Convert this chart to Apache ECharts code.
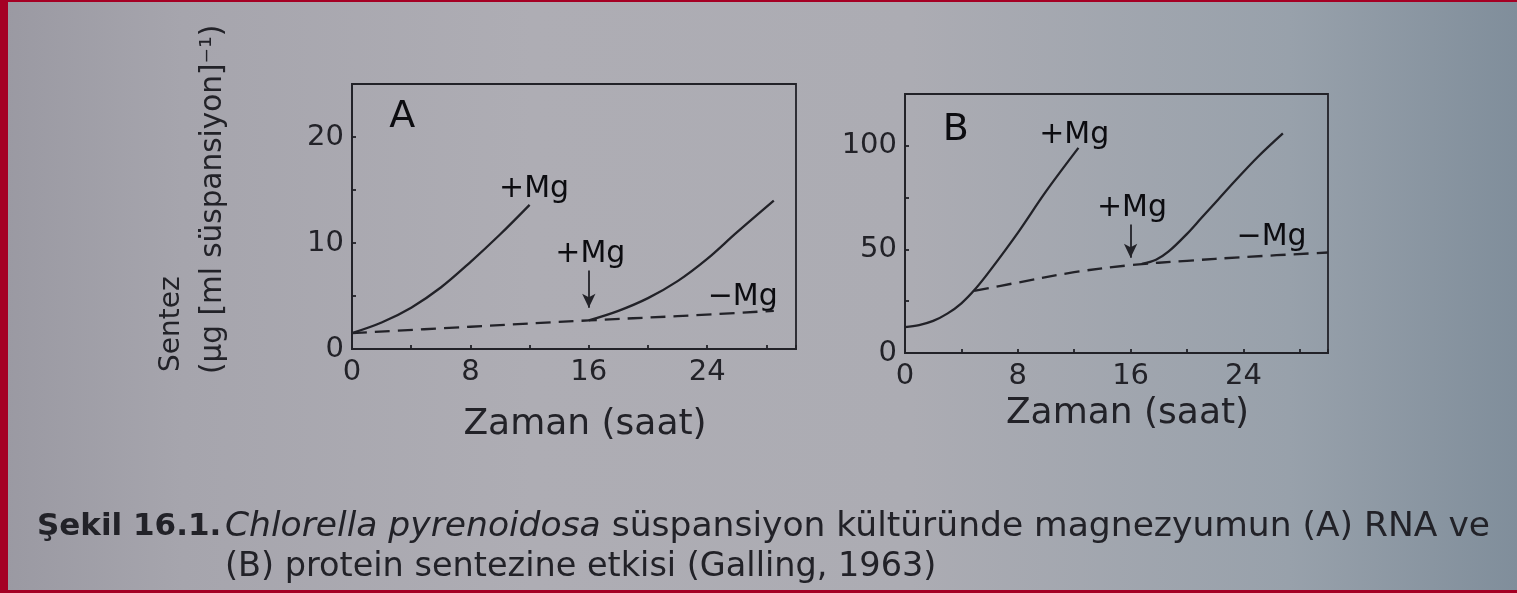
<!DOCTYPE html>
<html><head><meta charset="utf-8">
<script src="https://cdn.jsdelivr.net/npm/echarts@6/dist/echarts.min.js"></script>
<style>
html,body{margin:0;padding:0;width:1517px;height:593px;overflow:hidden;}
#chart{position:absolute;left:0;top:0;width:1517px;height:593px;
background:linear-gradient(90deg,#9a99a2 0%,#a6a5ad 12%,#aeadb4 35%,#acacb3 60%,#98a1ab 85%,#808e9b 100%);}
.bd{position:absolute;background:#a50024;}
</style></head>
<body>
<div id="chart"></div>
<div class="bd" style="left:0;top:0;width:8px;height:593px"></div>
<div class="bd" style="left:0;top:0;width:1517px;height:2px"></div>
<div class="bd" style="left:0;top:590px;width:1517px;height:3px"></div>
<script>
// ---- data ----
const xTickLabels = [0, 8, 16, 24];
const yTickLabelsA = [0, 10, 20];
const yTickLabelsB = [0, 50, 100];

// Panel A (RNA)
const aPlusEarly = [[0,1.5],[2,2.5],[4,3.9],[6,5.8],[8,8.2],[10,10.8],[12,13.6]];
const aMinus     = [[0,1.5],[8,2.1],[16,2.7],[22,3.1],[28.5,3.6]];
const aPlusLate  = [[16,2.7],[18,3.6],[20,4.8],[22,6.4],[24,8.5],[26,11.0],[28.5,14.0]];
const aLabels    = [[3.4,21.9,'A'],[12.3,15.1,'+Mg'],[16.1,8.9,'+Mg'],[26.4,4.9,'−Mg']];
const aArrow     = [16, 7.4, 3.9];

// Panel B (protein)
const bPlusEarly = [[0,12.5],[1,13.5],[2,15.5],[3,19],[4,24],[5,31],[6,39.5],[8,58],[10,78],[12.3,99]];
const bMinus     = [[4.9,30],[8,34],[12,39],[16,42.4],[20,44.5],[24,46.3],[30,48.5]];
const bPlusLate  = [[16.8,43],[17.8,45],[18.7,49],[20,57.5],[21,65],[22.2,74],[23.4,83],[25,94.5],[26.8,106]];
const bLabels    = [[3.6,107.6,'B'],[12.0,105.3,'+Mg'],[16.1,70,'+Mg'],[26.0,55.7,'−Mg']];
const bArrow     = [16, 62, 46];

const xName = 'Zaman (saat)';
const yName1 = 'Sentez';
const yName2 = '(µg [ml süspansiyon]⁻¹)';
const captionBold = 'Şekil 16.1.';
const captionItalic = 'Chlorella pyrenoidosa';
const captionRest1 = ' süspansiyon kültüründe magnezyumun (A) RNA ve';
const captionLine2 = '(B) protein sentezine etkisi (Galling, 1963)';

// ---- chart ----
const INK = '#222228';
const FONT = 'DejaVu Sans';
const chart = echarts.init(document.getElementById('chart'), null, {renderer:'canvas'});

function xAxisCfg(gi, gap, pad){
  return {
    type:'value', gridIndex:gi, min:0, max:30, interval:4,
    axisLine:{show:true, lineStyle:{color:INK, width:1.8}},
    axisTick:{show:true, inside:true, length:4, lineStyle:{color:INK, width:1.8}},
    splitLine:{show:false},
    axisLabel:{fontFamily:FONT, fontSize:29, color:INK, margin:9,
      formatter:v => xTickLabels.includes(v) ? String(v) : ''},
    name:xName, nameLocation:'middle', nameGap:gap,
    nameTextStyle:{fontFamily:FONT, fontSize:36, color:INK, padding:[0,0,0,pad]}
  };
}
function yAxisCfg(gi, max, interval, labels){
  return {
    type:'value', gridIndex:gi, min:0, max:max, interval:interval,
    axisLine:{show:true, lineStyle:{color:INK, width:1.8}},
    axisTick:{show:true, inside:true, length:4, lineStyle:{color:INK, width:1.8}},
    splitLine:{show:false},
    axisLabel:{fontFamily:FONT, fontSize:29, color:INK, margin:8,
      formatter:v => labels.includes(v) ? String(v) : ''}
  };
}
function curve(xi, data, dashed){
  return {
    type:'line', xAxisIndex:xi, yAxisIndex:xi, data:data, smooth:0.35,
    showSymbol:false, symbol:'none', silent:true,
    lineStyle:{color:INK, width:2.3, type: dashed ? [15,8] : 'solid'}
  };
}
function labels(xi, arr, arrow){
  return {
    type:'scatter', xAxisIndex:xi, yAxisIndex:xi, symbolSize:1, silent:true,
    itemStyle:{color:'rgba(0,0,0,0)'},
    data: arr.map(d => ({value:[d[0], d[1]],
      label:{show:true, position:'inside', formatter:d[2], fontFamily:FONT,
        fontSize: d[2].length === 1 ? 38 : 30, color:'#0c0c10', opacity:1,
        textBorderWidth:0}})),
    markLine:{
      silent:true, symbol:['none','arrow'], symbolSize:[10,14],
      label:{show:false},
      lineStyle:{color:INK, width:1.8, type:'solid'},
      data:[[{coord:[arrow[0], arrow[1]]},{coord:[arrow[0], arrow[2]]}]]
    }
  };
}

const option = {
  backgroundColor:'transparent',
  animation:false,
  grid:[
    {left:352, top:84, width:444, height:265, show:true, borderColor:INK, borderWidth:1.8, backgroundColor:'transparent'},
    {left:905, top:94, width:423, height:259, show:true, borderColor:INK, borderWidth:1.8, backgroundColor:'transparent'}
  ],
  xAxis:[xAxisCfg(0, 58, 22), xAxisCfg(1, 43, 22)],
  yAxis:[yAxisCfg(0, 25, 5, yTickLabelsA), yAxisCfg(1, 125, 25, yTickLabelsB)],
  series:[
    curve(0, aPlusEarly, false), curve(0, aMinus, true), curve(0, aPlusLate, false),
    labels(0, aLabels, aArrow),
    curve(1, bPlusEarly, false), curve(1, bMinus, true), curve(1, bPlusLate, false),
    labels(1, bLabels, bArrow)
  ],
  graphic:[
    {type:'text', x:172, y:372, rotation:Math.PI/2, silent:true,
      style:{text:yName1, fontFamily:FONT, fontSize:28, fill:INK, align:'left', verticalAlign:'middle'}},
    {type:'text', x:213, y:374, rotation:Math.PI/2, silent:true,
      style:{text:yName2, fontFamily:FONT, fontSize:29.5, fill:INK, align:'left', verticalAlign:'middle'}},
    {type:'text', x:37, y:527, silent:true,
      style:{text:captionBold, fontFamily:FONT, fontWeight:'bold', fontSize:31, fill:INK, align:'left', verticalAlign:'middle'}},
    {type:'text', x:225, y:527, silent:true,
      style:{text:'{i|' + captionItalic + '}' + captionRest1, fontFamily:FONT, fontSize:34.5, fill:INK,
        align:'left', verticalAlign:'middle',
        rich:{i:{fontFamily:FONT, fontStyle:'italic', fontSize:34.5, fill:INK}}}},
    {type:'text', x:225, y:567, silent:true,
      style:{text:captionLine2, fontFamily:FONT, fontSize:33.5, fill:INK, align:'left', verticalAlign:'middle'}}
  ]
};
chart.setOption(option);
</script>
</body></html>
